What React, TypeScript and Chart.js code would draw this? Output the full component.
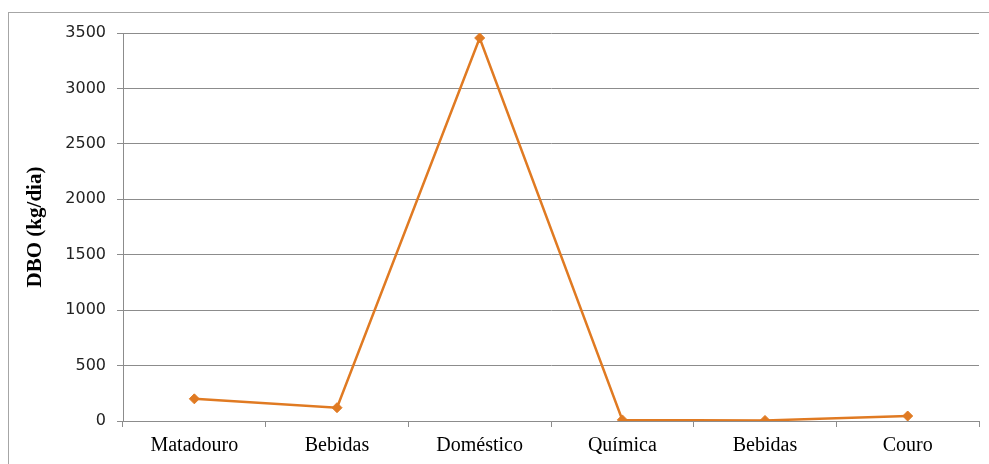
import React, { useEffect, useRef } from "react";
import { Chart, registerables } from "chart.js";

Chart.register(...registerables);

const categories = ["Matadouro", "Bebidas", "Doméstico", "Química", "Bebidas", "Couro"];
const dboValues = [200, 120, 3455, 10, 5, 45];
const yTicks = [0, 500, 1000, 1500, 2000, 2500, 3000, 3500];
const yTitle = "DBO (kg/dia)";

const W = 989;
const H = 464;

export default function App() {
  const ref = useRef<HTMLCanvasElement | null>(null);
  useEffect(() => {
    if (!ref.current) return;
    const orange = "#E07A22";
    const grid = "#8c8c8c";
    const chart = new Chart(ref.current, {
      type: "line",
      data: {
        labels: categories,
        datasets: [
          {
            label: "DBO",
            data: dboValues,
            borderColor: orange,
            backgroundColor: orange,
            borderWidth: 2.5,
            pointStyle: "rectRot",
            pointRadius: 5,
            pointBorderWidth: 1,
            pointBackgroundColor: orange,
            pointBorderColor: orange,
            tension: 0,
          },
        ],
      },
      options: {
        animation: false,
        responsive: false,
        maintainAspectRatio: false,
        devicePixelRatio: 1,
        layout: { padding: { left: 19, top: 33, right: 10, bottom: 0 } },
        plugins: { legend: { display: false }, tooltip: { enabled: false } },
        scales: {
          x: {
            type: "category",
            offset: true,
            grid: {
              offset: true,
              drawOnChartArea: false,
              drawTicks: true,
              tickLength: 6,
              color: grid,
            },
            border: { display: true, color: grid },
            ticks: {
              padding: 7,
              color: "#000000",
              font: { family: "'Liberation Serif', serif", size: 20 },
              maxRotation: 0,
              autoSkip: false,
            },
            afterFit: (s: any) => {
              s.height = 43;
            },
          },
          y: {
            min: 0,
            max: 3500,
            afterBuildTicks: (s: any) => {
              s.ticks = yTicks.map((v) => ({ value: v }));
            },
            grid: {
              drawOnChartArea: true,
              drawTicks: true,
              tickLength: 6,
              color: grid,
            },
            border: { display: true, color: grid },
            ticks: {
              padding: 11,
              color: "#222222",
              font: { family: "'DejaVu Sans', sans-serif", size: 16 },
              callback: (v: any) => String(v),
            },
            title: {
              display: true,
              text: yTitle,
              color: "#000000",
              font: { family: "'Liberation Serif', serif", size: 21, weight: "bold" },
              padding: { top: 4, bottom: 4 },
            },
            afterFit: (s: any) => {
              s.width = 104;
            },
          },
        },
      },
    });
    return () => chart.destroy();
  }, []);

  return (
    <div style={{ position: "fixed", left: 0, top: 0, width: W, height: H, background: "#fff", overflow: "hidden" }}>
      <div
        style={{
          position: "absolute",
          left: 8,
          top: 12,
          width: W,
          height: H,
          border: "1px solid #a6a6a6",
          boxSizing: "border-box",
        }}
      />
      <canvas ref={ref} width={W} height={H} style={{ position: "absolute", left: 0, top: 0, width: W, height: H }} />
    </div>
  );
}
